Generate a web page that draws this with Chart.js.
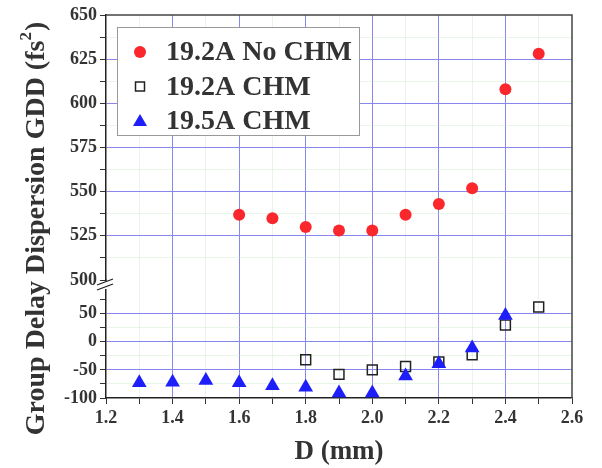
<!DOCTYPE html>
<html>
<head>
<meta charset="utf-8">
<script src="https://cdn.jsdelivr.net/npm/chart.js@4.4.1/dist/chart.umd.min.js"></script>
<style>
  body { margin: 0; background: #fff; }
</style>
</head>
<body>
<canvas id="gddChart" width="602" height="468"></canvas>
<script>
// D (mm) and GDD (fs^2)
const seriesNames = ['19.2A No CHM', '19.2A CHM', '19.5A CHM'];

const dNoChm = [1.6, 1.7, 1.8, 1.9, 2.0, 2.1, 2.2, 2.3, 2.4, 2.5];
const gddNoChm = [537, 535, 530, 528, 528, 537, 543, 552, 608, 628];

const dChm192 = [1.8, 1.9, 2.0, 2.1, 2.2, 2.3, 2.4, 2.5];
const gddChm192 = [-32, -58, -50, -44, -36, -23, 30, 62];

const dChm195 = [1.3, 1.4, 1.5, 1.6, 1.7, 1.8, 1.9, 2.0, 2.1, 2.2, 2.3, 2.4];
const gddChm195 = [-73, -72, -69, -73, -78, -81, -91, -91, -61, -39, -11, 47];

const yTopLabels = [500, 525, 550, 575, 600, 625, 650];
const yBotLabels = [-100, -50, 0, 50];

const FONT = 'Liberation Serif, Times New Roman, serif';
const MAJOR = 'rgb(135,135,238)';
const MINOR = 'rgba(190,228,190,0.35)';

function toPoints(xs, ys) {
    return xs.map((x, i) => ({ x: x, y: ys[i] }));
}

const extras = {
    id: 'extras',
    afterDraw(chart) {
        const ctx = chart.ctx;
        const a = chart.chartArea;
        ctx.save();

        // frame
        ctx.strokeStyle = '#444';
        ctx.lineWidth = 1.5;
        ctx.beginPath();
        ctx.moveTo(a.left, a.top);
        ctx.lineTo(a.right, a.top);
        ctx.lineTo(a.right, a.bottom);
        ctx.stroke();

        // axis break
        const by = chart.scales.yTop.bottom;
        ctx.fillStyle = '#fff';
        ctx.fillRect(a.left - 2, by + 1, 4, 8);
        ctx.strokeStyle = '#222';
        ctx.lineWidth = 1.3;
        ctx.beginPath();
        ctx.moveTo(a.left - 9, by + 5); ctx.lineTo(a.left + 7, by - 1);
        ctx.moveTo(a.left - 9, by + 10); ctx.lineTo(a.left + 7, by + 4);
        ctx.stroke();

        // axis titles
        ctx.fillStyle = '#333';
        ctx.font = 'bold 27px ' + FONT;
        ctx.textAlign = 'center';
        ctx.textBaseline = 'middle';
        ctx.fillText('D (mm)', (a.left + a.right) / 2, 452);

        ctx.translate(37, 229);
        ctx.rotate(-Math.PI / 2);
        const main = 'Group Delay Dispersion GDD (fs';
        ctx.font = 'bold 28px ' + FONT;
        const w1 = ctx.measureText(main).width;
        ctx.font = 'bold 17px ' + FONT;
        const w2 = ctx.measureText('2').width;
        ctx.font = 'bold 28px ' + FONT;
        const w3 = ctx.measureText(')').width;
        let x0 = -(w1 + w2 + w3) / 2;
        ctx.textAlign = 'left';
        ctx.fillText(main, x0, 0);
        ctx.font = 'bold 17px ' + FONT;
        ctx.fillText('2', x0 + w1, -10);
        ctx.font = 'bold 28px ' + FONT;
        ctx.fillText(')', x0 + w1 + w2 + 1, 0);
        ctx.restore();

        // legend
        ctx.save();
        ctx.fillStyle = '#fff';
        ctx.strokeStyle = '#999';
        ctx.lineWidth = 1;
        ctx.fillRect(117, 27, 242, 108);
        ctx.strokeRect(117.5, 27.5, 242, 108);
        ctx.font = 'bold 28px ' + FONT;
        ctx.textBaseline = 'middle';
        ctx.textAlign = 'left';
        chart.data.datasets.forEach((ds, i) => {
            const y = 52 + i * 34.5;
            const x = 140;
            if (ds.pointStyle === 'circle') {
                ctx.fillStyle = ds.backgroundColor;
                ctx.beginPath();
                ctx.arc(x, y, 6, 0, Math.PI * 2);
                ctx.fill();
            } else if (ds.pointStyle === 'rect') {
                ctx.strokeStyle = ds.borderColor;
                ctx.lineWidth = 1.5;
                ctx.strokeRect(x - 4.5, y - 4.5, 9, 9);
            } else {
                ctx.fillStyle = ds.backgroundColor;
                ctx.beginPath();
                ctx.moveTo(x, y - 7);
                ctx.lineTo(x + 7, y + 5);
                ctx.lineTo(x - 7, y + 5);
                ctx.closePath();
                ctx.fill();
            }
            ctx.fillStyle = '#333';
            ctx.fillText(ds.label, 166, y + 1);
        });
        ctx.restore();
    }
};

const tickFont = { family: FONT, size: 18, weight: 'bold' };

const config = {
    type: 'scatter',
    data: {
        datasets: [{
            label: seriesNames[0],
            data: toPoints(dNoChm, gddNoChm),
            yAxisID: 'yTop',
            pointStyle: 'circle',
            pointRadius: 6,
            pointHoverRadius: 6,
            backgroundColor: 'rgb(250,40,45)',
            borderWidth: 0,
            order: 0
        }, {
            label: seriesNames[1],
            data: toPoints(dChm192, gddChm192),
            yAxisID: 'yBot',
            pointStyle: 'rect',
            pointRadius: 7,
            pointHoverRadius: 7,
            backgroundColor: 'rgba(255,255,255,0)',
            borderColor: '#222',
            borderWidth: 1.5,
            order: 2
        }, {
            label: seriesNames[2],
            data: toPoints(dChm195, gddChm195),
            yAxisID: 'yBot',
            pointStyle: 'triangle',
            pointRadius: 8.5,
            pointHoverRadius: 8.5,
            backgroundColor: 'rgb(30,30,250)',
            borderWidth: 0,
            order: 1
        }]
    },
    options: {
        responsive: false,
        animation: false,
        layout: { padding: { top: 15, right: 30, bottom: 0, left: 0 } },
        plugins: {
            legend: { display: false },
            tooltip: { enabled: false }
        },
        scales: {
            x: {
                type: 'linear',
                min: 1.2,
                max: 2.6,
                afterFit(scale) { scale.height = 70; },
                ticks: {
                    stepSize: 0.1,
                    autoSkip: false,
                    maxRotation: 0,
                    font: tickFont,
                    color: '#333',
                    padding: 4,
                    callback: v => {
                        const k = Math.round(v * 10);
                        return k % 2 === 0 ? (k / 10).toFixed(1) : '';
                    }
                },
                grid: {
                    color: c => {
                        const k = Math.round(c.tick.value * 10);
                        if (k === 12 || k === 26) return 'rgba(0,0,0,0)';
                        return k % 2 === 0 ? MAJOR : MINOR;
                    },
                    tickColor: '#333',
                    tickLength: 6
                },
                border: { color: '#222', width: 1.5 }
            },
            yBot: {
                type: 'linear',
                position: 'left',
                stack: 'gdd',
                stackWeight: 118,
                min: -100,
                max: 110,
                afterFit(scale) { scale.width = 106; },
                ticks: {
                    stepSize: 25,
                    autoSkip: false,
                    font: tickFont,
                    color: '#333',
                    padding: 3,
                    callback: v => (yBotLabels.includes(v) ? String(v) : '')
                },
                grid: {
                    color: c => {
                        const v = c.tick.value;
                        if (v === -100 || v > 50) return 'rgba(0,0,0,0)';
                        return v % 50 === 0 ? MAJOR : MINOR;
                    },
                    tickColor: c => (c.tick.value > 80 ? 'rgba(0,0,0,0)' : '#333'),
                    tickLength: 6
                },
                border: { color: '#222', width: 1.5 }
            },
            yTop: {
                type: 'linear',
                position: 'left',
                stack: 'gdd',
                stackWeight: 265,
                min: 500,
                max: 650,
                afterFit(scale) { scale.width = 106; },
                ticks: {
                    stepSize: 12.5,
                    autoSkip: false,
                    font: tickFont,
                    color: '#333',
                    padding: 3,
                    callback: v => (yTopLabels.includes(v) ? String(v) : '')
                },
                grid: {
                    color: c => {
                        const v = c.tick.value;
                        if (v === 500 || v === 650) return 'rgba(0,0,0,0)';
                        return v % 25 === 0 ? MAJOR : MINOR;
                    },
                    tickColor: '#333',
                    tickLength: 6
                },
                border: { color: '#222', width: 1.5 }
            }
        }
    },
    plugins: [extras]
};

const gddChart = new Chart(document.getElementById('gddChart'), config);
</script>
</body>
</html>
